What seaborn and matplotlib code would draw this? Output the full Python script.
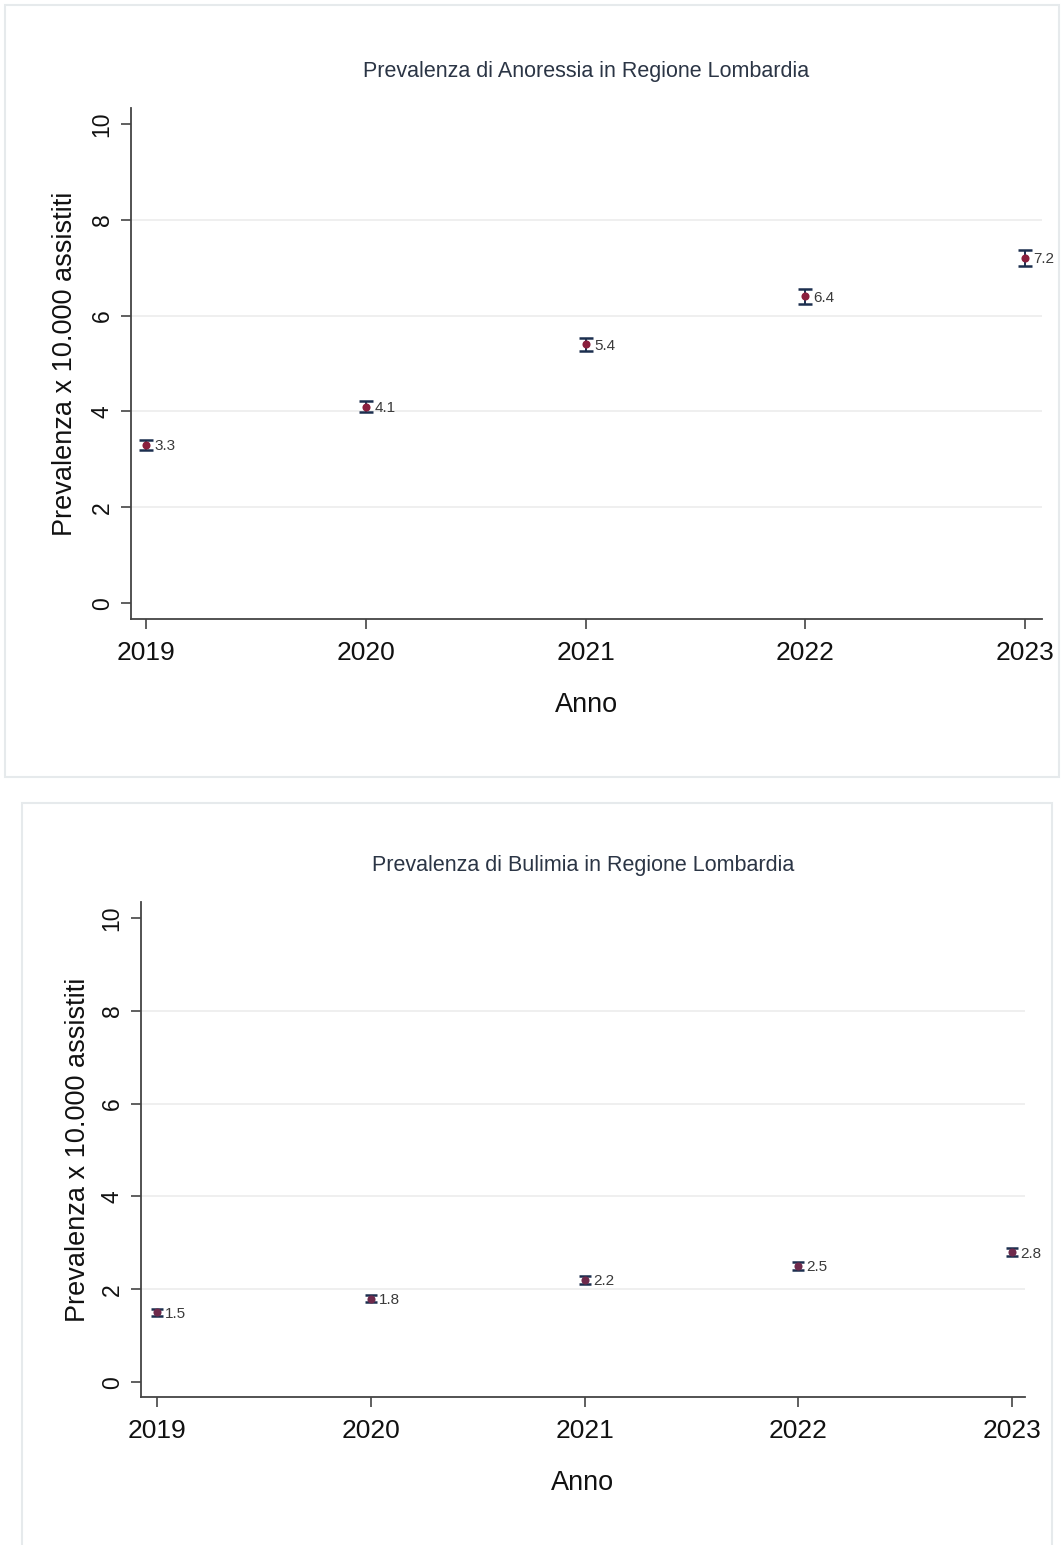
import matplotlib
matplotlib.use("Agg")
import matplotlib.pyplot as plt
import pandas as pd
import seaborn as sns
from matplotlib.patches import Rectangle

# Data
anni = [2019, 2020, 2021, 2022, 2023]
anoressia = [3.3, 4.1, 5.4, 6.4, 7.2]
anoressia_ci = [0.10, 0.11, 0.13, 0.15, 0.17]
bulimia = [1.5, 1.8, 2.2, 2.5, 2.8]
bulimia_ci = [0.07, 0.07, 0.08, 0.09, 0.09]
y_ticks = [0, 2, 4, 6, 8, 10]

sns.set_style("white")
plt.rcParams['font.family'] = ['Liberation Sans', 'DejaVu Sans']

W, H = 1061, 1545
fig = plt.figure(figsize=(W / 100, H / 100), dpi=100)


def px_axes(left, top, right, bottom):
    ax = fig.add_axes([left / W, 1 - bottom / H, (right - left) / W, (bottom - top) / H])
    ax.set_zorder(2)
    ax.patch.set_alpha(0)
    return ax


def frame(left, top, right, bottom):
    fig.patches.append(Rectangle((left / W, 1 - bottom / H), (right - left) / W, (bottom - top) / H,
                                 transform=fig.transFigure, facecolor='white',
                                 edgecolor='#e6eaec', linewidth=1.5, zorder=-1))


def draw_panel(ax, values, ci, title, xlim, ylim, marker_col, cap, ypad):
    df = pd.DataFrame({'anno': anni, 'valore': values, 'ci': ci})
    ax.errorbar(df.anno, df.valore, yerr=df.ci, fmt='none', ecolor='#1c2f4f',
                elinewidth=1.4, capsize=cap, capthick=1.8, zorder=2)
    sns.scatterplot(data=df, x='anno', y='valore', ax=ax, color=marker_col, s=34,
                    edgecolor=marker_col, linewidth=0, zorder=3)
    for x, y in zip(df.anno, df.valore):
        ax.annotate(f"{y:.1f}", (x, y), xytext=(6, -1), textcoords='offset points',
                    ha='left', va='center', fontsize=11, color='#3a3a3a')
    ax.set_xlim(*xlim)
    ax.set_ylim(*ylim)
    ax.set_xticks(anni)
    ax.set_yticks(y_ticks)
    for g in [2, 4, 6, 8]:
        ax.axhline(g, color='#ececec', linewidth=1.2, zorder=1)
    ax.tick_params(axis='both', direction='out', length=7.5, width=1.2, color='#444444',
                   labelcolor='#111111', bottom=True, left=True)
    ax.tick_params(axis='x', labelsize=19, pad=8)
    ax.tick_params(axis='y', labelsize=16.5, pad=5)
    for lab in ax.get_yticklabels():
        lab.set_rotation(90)
        lab.set_va('center')
    sns.despine(ax=ax)
    for s in ['left', 'bottom']:
        ax.spines[s].set_color('#444444')
        ax.spines[s].set_linewidth(1.3)
    ax.set_xlabel('Anno', fontsize=19.5, color='#111111', labelpad=20)
    ax.set_ylabel('Prevalenza x 10.000 assistiti', fontsize=19.5, color='#111111', labelpad=ypad)
    ax.set_title(title, fontsize=15.5, color='#2b3545', pad=22)


frame(5, 5, 1059, 777)
frame(22, 803, 1052, 1560)

ax1 = px_axes(131, 108, 1042, 619)
draw_panel(ax1, anoressia, anoressia_ci, 'Prevalenza di Anoressia in Regione Lombardia',
           (2018.93, 2023.077), (-0.33, 10.33), '#8a1f3d', 5, 9)

ax2 = px_axes(141, 902, 1025, 1397)
draw_panel(ax2, bulimia, bulimia_ci, 'Prevalenza di Bulimia in Regione Lombardia',
           (2018.925, 2023.06), (-0.32, 10.34), '#6e2a4c', 4, 7)

fig.savefig('out.png', dpi=100)
